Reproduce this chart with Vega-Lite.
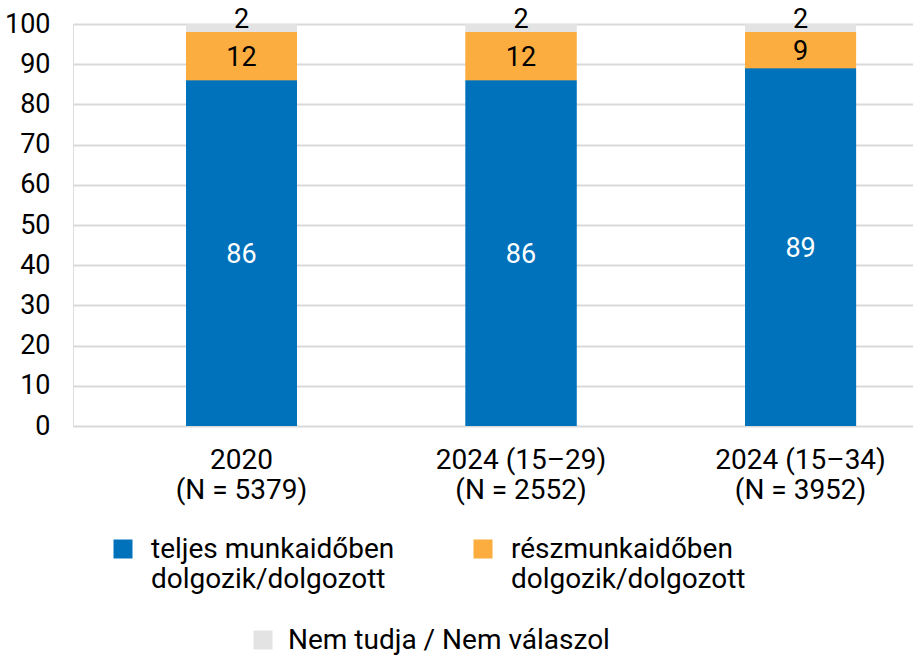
{
  "$schema": "https://vega.github.io/schema/vega-lite/v6.json",
  "width": 840,
  "height": 402,
  "autosize": {"type": "none"},
  "padding": {"left": 73, "top": 24, "right": 0, "bottom": 231},
  "background": "white",
  "data": {
    "values": [
      {"cat": "2020|(N = 5379)", "series": "teljes munkaidőben|dolgozik/dolgozott", "ord": 1, "value": 86},
      {"cat": "2020|(N = 5379)", "series": "részmunkaidőben|dolgozik/dolgozott", "ord": 2, "value": 12},
      {"cat": "2020|(N = 5379)", "series": "Nem tudja / Nem válaszol", "ord": 3, "value": 2},
      {"cat": "2024 (15–29)|(N = 2552)", "series": "teljes munkaidőben|dolgozik/dolgozott", "ord": 1, "value": 86},
      {"cat": "2024 (15–29)|(N = 2552)", "series": "részmunkaidőben|dolgozik/dolgozott", "ord": 2, "value": 12},
      {"cat": "2024 (15–29)|(N = 2552)", "series": "Nem tudja / Nem válaszol", "ord": 3, "value": 2},
      {"cat": "2024 (15–34)|(N = 3952)", "series": "teljes munkaidőben|dolgozik/dolgozott", "ord": 1, "value": 89},
      {"cat": "2024 (15–34)|(N = 3952)", "series": "részmunkaidőben|dolgozik/dolgozott", "ord": 2, "value": 9},
      {"cat": "2024 (15–34)|(N = 3952)", "series": "Nem tudja / Nem válaszol", "ord": 3, "value": 2}
    ]
  },
  "encoding": {
    "x": {
      "field": "cat", "type": "nominal", "sort": null, "title": null,
      "scale": {"paddingInner": 0.603, "paddingOuter": 0.304, "align": 0.665},
      "axis": {
        "labelExpr": "split(datum.label, '|')",
        "labelAngle": 0, "labelFont": "Roboto", "labelFontSize": 28, "labelColor": "#000000",
        "labelLineHeight": 30, "labelBaseline": "top", "labelPadding": 20,
        "domain": false, "ticks": false, "grid": false
      }
    },
    "y": {
      "field": "value", "type": "quantitative", "stack": "zero", "title": null,
      "scale": {"domain": [0, 100], "nice": false},
      "axis": {
        "values": [0, 10, 20, 30, 40, 50, 60, 70, 80, 90, 100],
        "labelFont": "Roboto", "labelFontSize": 27, "labelColor": "#000000", "labelPadding": 23,
        "domain": false, "ticks": false, "grid": true, "gridColor": "#d9d9d9", "gridWidth": 2
      }
    },
    "order": {"field": "ord", "type": "quantitative"}
  },
  "layer": [
    {
      "mark": {"type": "bar"},
      "encoding": {
        "color": {
          "field": "series", "type": "nominal", "title": null,
          "scale": {
            "domain": ["teljes munkaidőben|dolgozik/dolgozott", "részmunkaidőben|dolgozik/dolgozott", "Nem tudja / Nem válaszol"],
            "range": ["#0072BB", "#FBAD3F", "#E3E3E3"]
          },
          "legend": {
            "values": ["teljes munkaidőben|dolgozik/dolgozott", "részmunkaidőben|dolgozik/dolgozott"],
            "orient": "none", "legendX": 36, "legendY": 511, "direction": "horizontal", "columns": 2,
            "columnPadding": 74, "padding": 0,
            "labelExpr": "split(datum.label, '|')",
            "labelBaseline": "alphabetic", "labelFont": "Roboto", "labelFontSize": 28, "labelColor": "#000000",
            "labelLimit": 0, "labelOffset": 14,
            "symbolType": "square", "symbolSize": 361, "symbolStrokeWidth": 0, "symbolOpacity": 1,
            "encode": {"labels": {"update": {"dy": {"value": 9}, "lineHeight": {"value": 30}}}}
          }
        }
      }
    },
    {
      "mark": {"type": "bar"},
      "encoding": {
        "fill": {
          "field": "series", "type": "nominal", "title": null,
          "scale": {
            "domain": ["Nem tudja / Nem válaszol", "teljes munkaidőben|dolgozik/dolgozott", "részmunkaidőben|dolgozik/dolgozott"],
            "range": ["#E3E3E3", "#0072BB", "#FBAD3F"]
          },
          "legend": {
            "values": ["Nem tudja / Nem válaszol"],
            "orient": "none", "legendX": 176, "legendY": 602, "padding": 0,
            "labelBaseline": "alphabetic", "labelFont": "Roboto", "labelFontSize": 28, "labelColor": "#000000",
            "labelLimit": 0, "labelOffset": 11,
            "symbolType": "square", "symbolSize": 361, "symbolStrokeWidth": 0, "symbolOpacity": 1,
            "encode": {"labels": {"update": {"dy": {"value": 9}}}}
          }
        }
      }
    },
    {
      "mark": {"type": "text", "font": "Roboto", "fontSize": 27, "baseline": "middle", "dy": 2},
      "encoding": {
        "y": {"field": "value", "type": "quantitative", "stack": "zero", "bandPosition": 0.5},
        "text": {
          "condition": {"test": "datum.ord < 3", "field": "value", "type": "quantitative"},
          "value": ""
        },
        "color": {
          "condition": {"test": "datum.ord == 1", "value": "#ffffff"},
          "value": "#000000"
        }
      }
    },
    {
      "mark": {"type": "text", "font": "Roboto", "fontSize": 27, "baseline": "alphabetic", "dy": 4, "color": "#000000"},
      "encoding": {
        "text": {
          "condition": {"test": "datum.ord == 3", "field": "value", "type": "quantitative"},
          "value": ""
        }
      }
    }
  ]
}
